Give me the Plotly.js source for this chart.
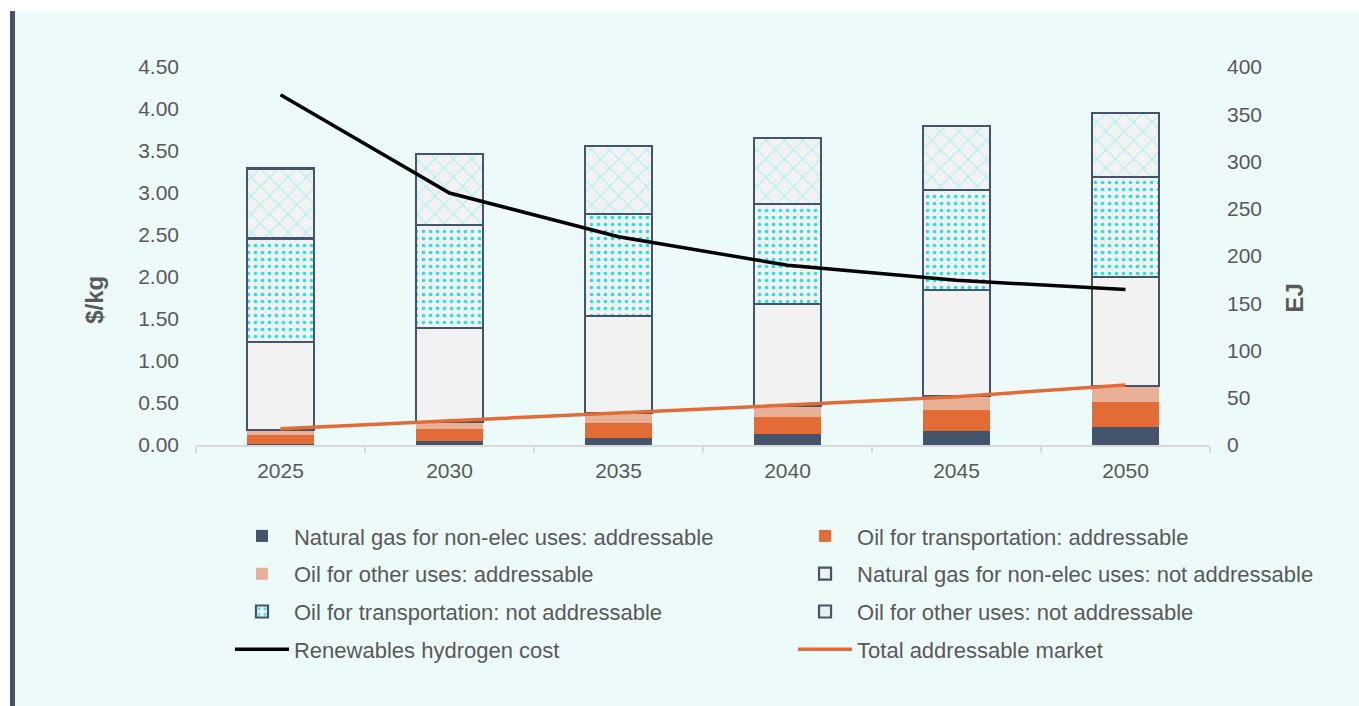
<!DOCTYPE html>
<html>
<head>
<meta charset="utf-8">
<script src="https://cdn.plot.ly/plotly-3.0.1.min.js"></script>
<style>
  html, body { margin: 0; padding: 0; background: #ffffff; width: 1359px; height: 706px; overflow: hidden; }
  #chart { position: absolute; left: 10px; top: 11px; width: 1344px; height: 695px; border-left: 5px solid #44546A; background: #EDFAFA; }
</style>
</head>
<body>
<div id="chart"></div>
<script>
const years = ["2025", "2030", "2035", "2040", "2045", "2050"];
const gasAddressable = [0.8, 4.6, 7.7, 11.3, 15.1, 19.4];
const oilTransportAddressable = [9.3, 12.0, 15.3, 18.6, 22.3, 26.4];
const oilOtherAddressable = [5.6, 8.1, 10.5, 11.7, 14.8, 17.0];
const gasNotAddressable = [93.1, 98.8, 103.3, 107.9, 111.5, 115.3];
const oilTransportNotAddressable = [109.7, 109.3, 107.6, 105.8, 106.1, 105.5];
const oilOtherNotAddressable = [74.1, 75.1, 72.3, 69.9, 68.1, 67.4];
const hydrogenCost = [4.17, 3.00, 2.48, 2.14, 1.96, 1.85];
const totalAddressable = [17.2, 25.4, 33.5, 42.3, 51.1, 63.5];
const leftAxisTitle = "$/kg";
const rightAxisTitle = "EJ";

const FONT = "Liberation Sans, Arial, sans-serif";
const TXT = "#595959";
const SLATE = "#44546A";

function bar(name, vals, color, legend, group, extra) {
  return {
    type: "bar", name: name, x: years, y: vals, yaxis: "y",
    legend: legend, legendgroup: group,
    marker: Object.assign({ color: color, line: { width: 0 } }, extra || {}),
    hoverinfo: "name+y"
  };
}

const traces = [
  bar("Natural gas for non-elec uses: addressable", gasAddressable, SLATE, "legend", "g1"),
  bar("Oil for transportation: addressable", oilTransportAddressable, "#E26B36", "legend2", "g2"),
  bar("Oil for other uses: addressable", oilOtherAddressable, "#E8B097", "legend", "g3"),
  bar("Natural gas for non-elec uses: not addressable", gasNotAddressable, "#F2F2F2", "legend2", "g4",
      { line: { color: SLATE, width: 2.2 } }),
  bar("Oil for transportation: not addressable", oilTransportNotAddressable, "#F2F2F2", "legend", "g5",
      { line: { color: SLATE, width: 2.2 }, pattern: { shape: ".", fgcolor: "#12E6EA", bgcolor: "#F2F2F2", size: 7, solidity: 0.2 } }),
  bar("Oil for other uses: not addressable", oilOtherNotAddressable, "#F2F2F2", "legend2", "g6",
      { line: { color: SLATE, width: 2.2 }, pattern: { shape: "x", fgcolor: "#A6F2F4", bgcolor: "#F2F2F2", size: 13, solidity: 0.16 } }),
  {
    type: "scatter", mode: "lines", name: "Renewables hydrogen cost", x: years, y: hydrogenCost,
    yaxis: "y2", legend: "legend", legendgroup: "g7",
    line: { color: "#000000", width: 3.5 }
  },
  {
    type: "scatter", mode: "lines", name: "Total addressable market", x: years, y: totalAddressable,
    yaxis: "y", legend: "legend2", legendgroup: "g8",
    line: { color: "#E26B36", width: 3.5 }
  }
];

const legendCommon = {
  orientation: "v", xanchor: "left", yanchor: "top", y: -0.1855,
  bgcolor: "rgba(0,0,0,0)", borderwidth: 0,
  font: { family: FONT, size: 22, color: TXT },
  traceorder: "grouped", tracegroupgap: 6.2, itemwidth: 54,
  itemclick: false, itemdoubleclick: false
};

const titleFont = { family: FONT, size: 24, color: TXT, weight: "bold" };

const layout = {
  width: 1344, height: 695,
  margin: { l: 181, r: 149, t: 56, b: 261 },
  paper_bgcolor: "#EDFAFA", plot_bgcolor: "#EDFAFA",
  font: { family: FONT, size: 21, color: TXT },
  barmode: "stack", bargap: 0.6,
  showlegend: true,
  xaxis: {
    type: "category", tickson: "boundaries", ticks: "outside", ticklen: 6, tickwidth: 1.5,
    tickcolor: "#D9D9D9", showline: true, linecolor: "#D9D9D9", linewidth: 1.5,
    showgrid: false, zeroline: false, ticklabelstandoff: 6,
    tickfont: { family: FONT, size: 21, color: TXT }, fixedrange: true
  },
  yaxis: {
    side: "right", range: [0, 400], dtick: 50, tick0: 0, showgrid: false, zeroline: false,
    showline: false, ticks: "", ticklabelstandoff: 16,
    tickfont: { family: FONT, size: 21, color: TXT },
    fixedrange: true
  },
  yaxis2: {
    overlaying: "y", side: "left", range: [0, 4.5], dtick: 0.5, tick0: 0, tickformat: ".2f",
    showgrid: false, zeroline: false, showline: false, ticks: "", ticklabelstandoff: 16,
    tickfont: { family: FONT, size: 21, color: TXT },
    fixedrange: true
  },
  annotations: [
    { text: leftAxisTitle, xref: "paper", yref: "paper", x: -0.1,  y: 0.383, textangle: -90,
      showarrow: false, xanchor: "center", yanchor: "middle", font: titleFont },
    { text: rightAxisTitle, xref: "paper", yref: "paper", x: 1.0838, y: 0.39, textangle: -90,
      showarrow: false, xanchor: "center", yanchor: "middle", font: titleFont }
  ],
  legend: Object.assign({}, legendCommon, { x: 0.0335 }),
  legend2: Object.assign({}, legendCommon, { x: 0.5888 })
};

Plotly.newPlot("chart", traces, layout, { displayModeBar: false });
</script>
</body>
</html>
